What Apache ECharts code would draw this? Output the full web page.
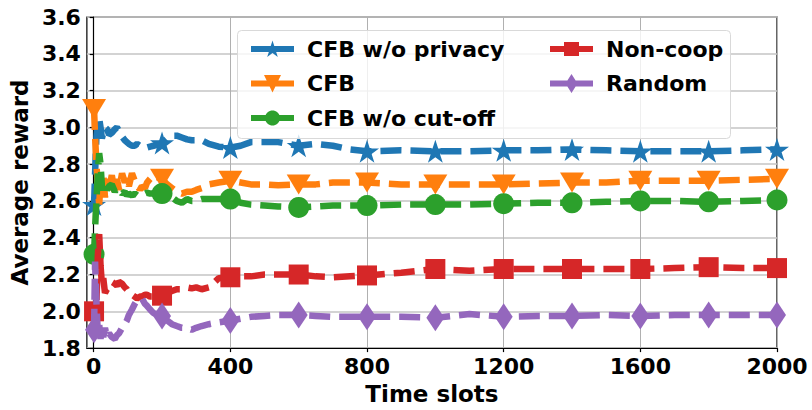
<!DOCTYPE html>
<html>
<head>
<meta charset="utf-8">
<script src="https://cdn.jsdelivr.net/npm/echarts@6/dist/echarts.min.js"></script>
<style>html,body{margin:0;padding:0;background:#fff;}#c{width:812px;height:410px;}</style>
</head>
<body>
<div id="c"></div>
<script>
const timeSlots = [1,4,8,12,16,20,24,28,33,39,45,53,62,68,74,83,91,97,103,112,120,127,135,141,150,156,165,175,185,200,215,229,243,258,273,287,300,316,337,366,400,430,460,500,540,600,650,700,750,800,900,1000,1100,1200,1300,1400,1500,1600,1700,1800,1900,2000];
const markerSlots = [1,200,400,600,800,1000,1200,1400,1600,1800,2000];
const xTicks = [0,400,800,1200,1600,2000];
const seriesNames = ['CFB w/o privacy','CFB','CFB w/o cut-off','Non-coop','Random'];
const cfbNoPrivacy = [2.58,2.75,2.95,3.04,3.05,3.00,2.94,2.97, 3.00,2.99,2.96,2.97,2.99,3.00,2.98,2.95, 2.93,2.92,2.91,2.90,2.90,2.91,2.90,2.89, 2.89,2.89,2.895,2.90,2.905,2.915,2.94,2.955, 2.955,2.945,2.935,2.93,2.93,2.93,2.91,2.895, 2.89,2.90,2.92,2.92,2.92,2.90,2.91,2.90, 2.88,2.87,2.875,2.87,2.87,2.875,2.875,2.88, 2.875,2.87,2.87,2.87,2.875,2.88];
const cfb = [3.10,2.95,2.80,2.68,2.58,2.70,2.65,2.75, 2.62,2.72,2.66,2.74,2.64,2.72,2.66,2.75, 2.70,2.73,2.68,2.75,2.71,2.69,2.66,2.68, 2.67,2.70,2.72,2.74,2.73,2.72,2.69,2.67, 2.65,2.64,2.65,2.65,2.66,2.67,2.69,2.70, 2.71,2.70,2.69,2.69,2.685,2.69,2.69,2.70, 2.70,2.70,2.69,2.69,2.69,2.69,2.695,2.70, 2.70,2.71,2.71,2.71,2.715,2.72];
const cfbNoCutoff = [2.31,2.45,2.60,2.75,2.86,2.80,2.68,2.66, 2.70,2.66,2.68,2.69,2.65,2.67,2.66,2.64, 2.65,2.63,2.64,2.63,2.64,2.63,2.64,2.64, 2.64,2.645,2.64,2.64,2.64,2.64,2.63,2.62, 2.60,2.59,2.61,2.60,2.60,2.61,2.61,2.61, 2.61,2.59,2.58,2.575,2.57,2.565,2.57,2.575, 2.575,2.575,2.58,2.58,2.58,2.585,2.59,2.59, 2.595,2.60,2.60,2.595,2.60,2.605];
const nonCoop = [2.00,1.95,2.05,2.30,2.42,2.25,2.15,2.18, 2.10,2.12,2.13,2.16,2.15,2.14,2.16,2.15, 2.13,2.12,2.10,2.09,2.08,2.07,2.08,2.08, 2.09,2.09,2.08,2.08,2.09,2.085,2.10,2.11, 2.12,2.12,2.13,2.125,2.13,2.12,2.13,2.18, 2.185,2.19,2.19,2.20,2.20,2.20,2.19,2.185, 2.19,2.195,2.21,2.23,2.22,2.23,2.23,2.23, 2.23,2.23,2.235,2.24,2.235,2.235];
const random = [1.90,2.27,2.05,1.88,1.93,1.85,1.92,1.86, 1.91,1.86,1.88,1.86,1.85,1.87,1.88,1.91, 1.93,1.95,1.98,2.01,2.04,2.06,2.07,2.07, 2.04,2.03,2.01,1.99,1.985,1.975,1.95,1.93, 1.92,1.91,1.91,1.90,1.91,1.92,1.93,1.94, 1.95,1.96,1.97,1.975,1.98,1.98,1.975,1.97, 1.97,1.97,1.97,1.965,1.985,1.97,1.975,1.975, 1.98,1.975,1.98,1.98,1.98,1.98];
const allValues = [cfbNoPrivacy, cfb, cfbNoCutoff, nonCoop, random];

const colors = ['#1f77b4','#ff7f0e','#2ca02c','#d62728','#9467bd'];
const FONT = 'DejaVu Sans';

function starPts(cx, cy, R) {
  const r = R * 0.381966; let s = '';
  for (let i = 0; i < 10; i++) {
    const a = -Math.PI / 2 + i * Math.PI / 5;
    const rr = i % 2 === 0 ? R : r;
    s += (i === 0 ? 'M' : 'L') + (cx + rr * Math.cos(a)).toFixed(2) + ',' + (cy + rr * Math.sin(a)).toFixed(2) + ' ';
  }
  return s + 'Z';
}
function circlePts(cx, cy, R) {
  let s = '';
  for (let i = 0; i < 36; i++) {
    const a = i * Math.PI * 2 / 36;
    s += (i === 0 ? 'M' : 'L') + (cx + R * Math.cos(a)).toFixed(2) + ',' + (cy + R * Math.sin(a)).toFixed(2) + ' ';
  }
  return s + 'Z';
}
const starSym = 'path://' + starPts(0, 0, 10);
const seriesSymbols = [starSym, 'path://M0,0 L2,0 L1,1.7 Z', 'circle', 'rect', 'diamond'];
const seriesSizes = [[24, 23], [24, 20], 21, 20, [18, 27]];

const bar = 'M0,7 L43,7 L43,13 L0,13 Z ';
const corners = 'M0,0 L0.01,0 L0,0.01 Z M43,20 L42.99,20 L43,19.99 Z ';
const legendMarks = [
  starPts(21.5, 10.6, 9),
  'M13,1.5 L30,1.5 L21.5,19 Z',
  circlePts(21.5, 10, 7.5),
  'M14,3 L29,3 L29,17 L14,17 Z',
  'M21.5,0.5 L27.5,10 L21.5,19.5 L15.5,10 Z'
];
const legendIcons = legendMarks.map(m => 'path://' + corners + bar + m);

const series = seriesNames.map((name, k) => ({
  name, type: 'line',
  data: timeSlots.map((x, i) => ({
    value: [x, allValues[k][i]],
    symbol: markerSlots.includes(x) ? seriesSymbols[k] : 'none'
  })),
  symbolSize: seriesSizes[k],
  showAllSymbol: true,
  itemStyle: { color: colors[k], opacity: 1 },
  lineStyle: { width: 6.5, type: [21, 9], color: colors[k] },
  z: 2 + k,
  silent: true
}));

const legendText = { fontFamily: FONT, fontWeight: 'bold', fontSize: 22, color: '#000', padding: [0, 0, 0, 8], lineHeight: 22 };
const chart = echarts.init(document.getElementById('c'), null, { renderer: 'svg' });
chart.setOption({
  animation: false,
  backgroundColor: '#fff',
  grid: { left: 85, right: 35, top: 17, bottom: 56, show: true, borderColor: '#000', borderWidth: 1.2, containLabel: false },
  xAxis: {
    type: 'value', min: -20, max: 2000,
    name: 'Time slots', nameLocation: 'middle', nameGap: 31,
    nameTextStyle: { fontFamily: FONT, fontWeight: 'bold', fontSize: 23, color: '#000' },
    axisLine: { show: true, lineStyle: { color: '#000', width: 1.2 } },
    axisTick: { show: true, length: 4, lineStyle: { color: '#000', width: 1.2 }, customValues: xTicks },
    axisLabel: { fontFamily: FONT, fontWeight: 'bold', fontSize: 22, color: '#000', margin: 7, customValues: xTicks, formatter: v => String(v) },
    splitLine: { show: true, lineStyle: { color: '#b0b0b0', width: 1 } }
  },
  yAxis: {
    type: 'value', min: 1.8, max: 3.6, interval: 0.2,
    name: 'Average reward', nameLocation: 'middle', nameGap: 42,
    nameTextStyle: { fontFamily: FONT, fontWeight: 'bold', fontSize: 23, color: '#000' },
    axisLine: { show: true, lineStyle: { color: '#000', width: 1.2 } },
    axisTick: { show: true, length: 4, lineStyle: { color: '#000', width: 1.2 } },
    axisLabel: { fontFamily: FONT, fontWeight: 'bold', fontSize: 22, color: '#000', margin: 6, formatter: v => v.toFixed(1) },
    splitLine: { show: true, lineStyle: { color: '#c4c4c4', width: 1.5 } }
  },
  graphic: [{
    type: 'rect', z: 50, silent: true,
    shape: { x: 237.5, y: 30.5, width: 493, height: 108, r: 4 },
    style: { fill: 'rgba(255,255,255,0.8)', stroke: '#d9d9d9', lineWidth: 1 }
  }],
  legend: [
    {
      z: 60, orient: 'vertical', left: 246, top: 33, itemWidth: 43, itemHeight: 20, itemGap: 12.5,
      data: [0, 1, 2].map(k => ({ name: seriesNames[k], icon: legendIcons[k] })),
      textStyle: legendText, selectedMode: false
    },
    {
      z: 60, orient: 'vertical', left: 545, top: 33, itemWidth: 43, itemHeight: 20, itemGap: 12.5,
      data: [3, 4].map(k => ({ name: seriesNames[k], icon: legendIcons[k] })),
      textStyle: legendText, selectedMode: false
    }
  ],
  series
});
</script>
</body>
</html>
